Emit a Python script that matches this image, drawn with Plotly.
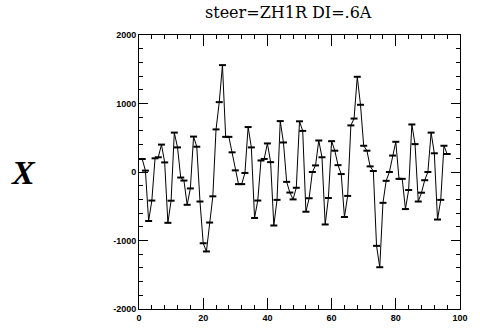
import plotly.graph_objects as go

# readings per monitor index (1..96)
positions = list(range(1, 97))
x_readings = [
    190, 20, -715, -417, 200, 215, 400, 140, -742, -419,
    575, 359, -81, -125, -479, -240, 517, 369, -431, -1040,
    -1160, -738, -355, 622, 1020, 1560, 513, 513, 287, 24,
    -177, -177, -14, 656, 359, -671, -417, 168, 191, 417,
    144, -781, -407, 743, 431, -144, -300, -400, -230, 740,
    600, -580, -383, 0, 96, 460, 215, -766, -380, 450,
    311, 100, -30, -657, -349, 680, 780, 1390, 981, 383,
    311, 82, 14, -1078, -1390, -450, -129, 0, 240, 441,
    -100, -100, -541, -263, 694, 407, -431, -302, -120, 0,
    575, 273, -694, -407, 383, 263,
]

x_ticks = [0, 20, 40, 60, 80, 100]
y_ticks = [-2000, -1000, 0, 1000, 2000]
y_tick_labels = ["-2000", "-1000", "0", "1000", "2000"]

title_text = "steer=ZH1R DI=.6A"
side_label = "X"

fig = go.Figure()
fig.add_trace(go.Scatter(
    x=positions, y=x_readings, mode="lines+markers",
    line=dict(color="black", width=1),
    marker=dict(symbol="line-ew", size=5, line=dict(color="black", width=2)),
    showlegend=False, hoverinfo="skip",
))

tickfont = dict(family="Liberation Sans", size=9, color="black", weight="bold")
fig.update_layout(
    width=480, height=335,
    margin=dict(l=139, r=17, t=35, b=21),
    paper_bgcolor="white", plot_bgcolor="white",
    hovermode=False,
    xaxis=dict(range=[0, 100], tickvals=x_ticks, ticks="inside", ticklen=11, tickwidth=1,
               tickcolor="black", showline=True, linecolor="black", linewidth=1,
               mirror="ticks", showgrid=False, zeroline=False, tickfont=tickfont,
               minor=dict(ticks="inside", ticklen=4, dtick=4, tickcolor="black", showgrid=False)),
    yaxis=dict(range=[-2000, 2000], tickvals=y_ticks, ticktext=y_tick_labels, ticks="inside",
               ticklen=9, tickwidth=1, tickcolor="black", showline=True, linecolor="black",
               linewidth=1, mirror="ticks", showgrid=False, zeroline=False, tickfont=tickfont),
    annotations=[
        dict(text="<b><i>" + side_label + "</i></b>", xref="paper", yref="paper",
             x=-0.361, y=0.5, xanchor="center", yanchor="middle", showarrow=False,
             font=dict(family="Liberation Serif", size=34, color="black")),
        dict(text=title_text, xref="paper", yref="paper", x=0.466, y=1.0824,
             xanchor="center", yanchor="middle", showarrow=False,
             font=dict(family="DejaVu Serif", size=16, color="black")),
    ],
)
fig.update_yaxes(minor=dict(ticks="inside", ticklen=4, dtick=200, tickcolor="black", showgrid=False))
fig.write_html("out.html", config={"displayModeBar": False, "staticPlot": True},
               post_script="document.body.style.margin='0';document.body.style.overflow='hidden';")
